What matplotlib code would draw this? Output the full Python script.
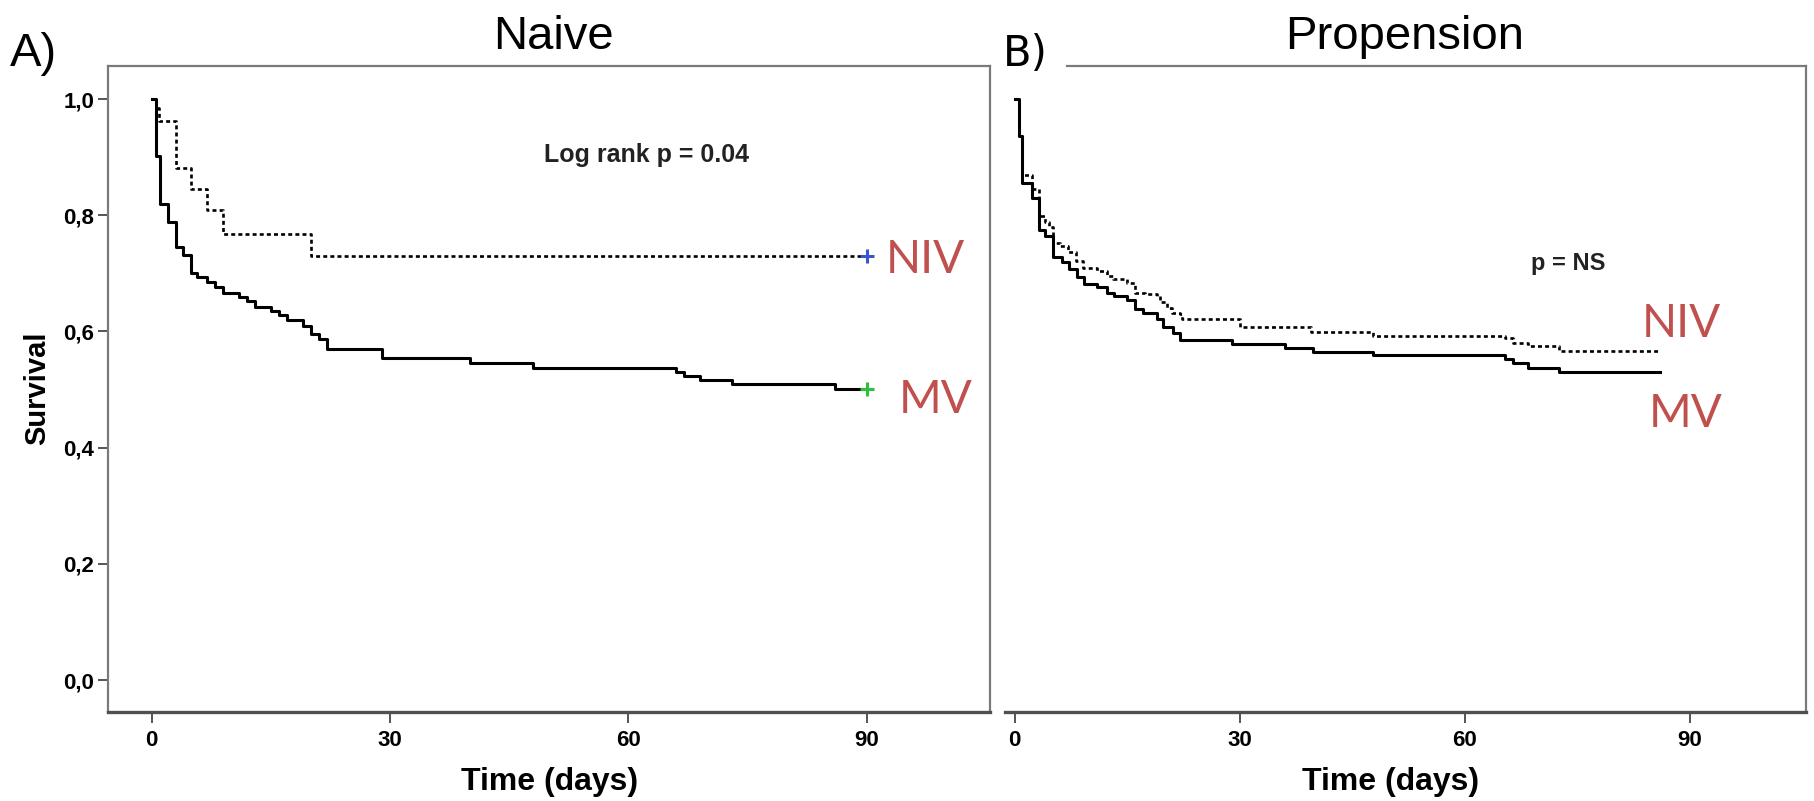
import matplotlib
matplotlib.use("Agg")
import matplotlib.pyplot as plt
from matplotlib import font_manager as fm

# ---------------- data ----------------
# Panel A (Naive)
t_niv_a = [0, 0.5, 0.9, 3.0, 5.0, 7.0, 9.0, 20.0, 90.0]
s_niv_a = [1.0, 0.985, 0.963, 0.882, 0.846, 0.809, 0.767, 0.730, 0.730]

t_mv_a = [0, 0.5, 1.0, 2.0, 3.0, 4.0, 5.0, 5.7, 7.0, 8.0, 9.0, 11.0, 12.0, 13.0,
          15.0, 16.0, 17.0, 19.0, 20.0, 21.0, 22.0, 29.0, 40.0, 48.0, 66.0, 67.0,
          69.0, 73.0, 86.0, 90.0]
s_mv_a = [1.0, 0.902, 0.819, 0.789, 0.745, 0.731, 0.701, 0.694, 0.686, 0.676, 0.667,
          0.659, 0.652, 0.643, 0.636, 0.628, 0.619, 0.610, 0.596, 0.587, 0.569, 0.555,
          0.546, 0.537, 0.531, 0.524, 0.517, 0.509, 0.501, 0.501]

# Panel B (Propension)
t_mv_b = [0, 0.6, 1.0, 2.3, 3.2, 4.0, 5.1, 6.3, 7.2, 8.3, 9.2, 10.9, 12.3, 13.2,
          14.9, 16.0, 17.1, 18.9, 19.8, 21.1, 22.0, 28.9, 36.0, 39.7, 47.7, 65.3,
          66.4, 68.4, 72.6, 86.0]
s_mv_b = [1.0, 0.937, 0.856, 0.830, 0.775, 0.765, 0.728, 0.719, 0.707, 0.693, 0.681,
          0.676, 0.667, 0.661, 0.655, 0.638, 0.632, 0.621, 0.607, 0.598, 0.586, 0.578,
          0.572, 0.564, 0.559, 0.552, 0.545, 0.537, 0.530, 0.530]

t_niv_b = [0, 0.6, 1.0, 2.3, 3.2, 4.0, 4.6, 5.1, 6.0, 7.1, 8.2, 9.1, 10.9, 12.3,
           13.1, 14.9, 16.0, 17.4, 18.9, 19.4, 20.3, 21.0, 22.0, 22.3, 30.0, 39.5,
           47.7, 65.3, 66.4, 68.4, 72.6, 86.0]
s_niv_b = [1.0, 0.937, 0.869, 0.846, 0.799, 0.789, 0.779, 0.753, 0.748, 0.736, 0.722,
           0.710, 0.704, 0.696, 0.690, 0.684, 0.667, 0.664, 0.661, 0.650, 0.641, 0.632,
           0.630, 0.621, 0.607, 0.599, 0.592, 0.589, 0.581, 0.575, 0.566, 0.566]

x_ticks = [0, 30, 60, 90]
y_ticks = [0.0, 0.2, 0.4, 0.6, 0.8, 1.0]
y_tick_labels = ["0,0", "0,2", "0,4", "0,6", "0,8", "1,0"]

# ---------------- fonts ----------------
names = {f.name for f in fm.fontManager.ttflist}
NARROW = "Liberation Sans Narrow" if "Liberation Sans Narrow" in names else "Liberation Sans"
ARIAL = "Liberation Sans"
LABEL = "Lato" if "Lato" in names else "Open Sans"

W, H = 1814, 801
fig = plt.figure(figsize=(W / 100, H / 100), dpi=100)


def fx(x):
    return x / W


def fy(y):
    return 1 - y / H


def add_ax(left, right, top, bottom):
    return fig.add_axes([fx(left), fy(bottom), fx(right - left), (bottom - top) / H])


axA = add_ax(108, 990, 66, 712)
axB = add_ax(1005, 1806, 66, 712)

RED = "#C0504D"
SPINE = "#7a7a7a"

for ax in (axA, axB):
    ax.set_ylim(-0.055, 1.057)
    ax.set_xticks(x_ticks)
    ax.set_xticklabels([str(v) for v in x_ticks], fontfamily=NARROW,
                       fontweight="bold", fontsize=16)
    ax.tick_params(axis="x", direction="out", length=8, width=1.4,
                   colors="#555555", labelcolor="black", pad=5)
    for s in ax.spines.values():
        s.set_color(SPINE)
        s.set_linewidth(1.6)
    ax.spines["bottom"].set_color("#505050")
    ax.spines["bottom"].set_linewidth(2.4)

axA.set_xlim(-5.5, 105.5)
axB.set_xlim(-1.3, 105.5)

DOT = (0, (1.5, 1.2))

# Panel A
axA.plot(t_mv_a, s_mv_a, drawstyle="steps-post", color="black", lw=2.2)
axA.plot(t_niv_a, s_niv_a, drawstyle="steps-post", color="black", lw=1.9,
         linestyle=DOT)
axA.plot([t_niv_a[-1]], [s_niv_a[-1]], marker="+", color="#3a56c9", ms=10, mew=2.2)
axA.plot([t_mv_a[-1]], [s_mv_a[-1]], marker="+", color="#2fbf3a", ms=10, mew=2.2)
axA.set_yticks(y_ticks)
axA.set_yticklabels(y_tick_labels, fontfamily=NARROW, fontweight="bold", fontsize=16)
axA.tick_params(axis="y", direction="out", length=7, width=1.4,
                colors="#555555", labelcolor="black", pad=3)

# Panel B
axB.plot(t_mv_b, s_mv_b, drawstyle="steps-post", color="black", lw=2.2)
axB.plot(t_niv_b, s_niv_b, drawstyle="steps-post", color="black", lw=1.9,
         linestyle=DOT)
axB.set_yticks([])
axB.spines["left"].set_visible(False)
xl = axB.get_xlim()
axB.spines["top"].set_bounds(xl[0] + 0.078 * (xl[1] - xl[0]), xl[1])

# ---------------- texts ----------------
fig.text(fx(553), fy(49), "Naive", ha="center", va="baseline",
         fontfamily=ARIAL, fontsize=34)
fig.text(fx(1405), fy(49), "Propension", ha="center", va="baseline",
         fontfamily=ARIAL, fontsize=34)
fig.text(fx(10), fy(66), "A)", ha="left", va="baseline", fontfamily=ARIAL, fontsize=34)
fig.text(fx(1003), fy(66), "B)", ha="left", va="baseline", fontfamily="DejaVu Sans",
         fontsize=30)

fig.text(fx(37), fy(388), "Survival", rotation=90, ha="center", va="center",
         fontfamily=NARROW, fontweight="bold", fontsize=21)
fig.text(fx(550), fy(790), "Time (days)", ha="center", va="baseline",
         fontfamily=NARROW, fontweight="bold", fontsize=23)
fig.text(fx(1391), fy(790), "Time (days)", ha="center", va="baseline",
         fontfamily=NARROW, fontweight="bold", fontsize=23)

fig.text(fx(646), fy(162), "Log rank p = 0.04", ha="center", va="baseline",
         fontfamily=ARIAL, fontweight="bold", fontsize=18, color="#222222")
fig.text(fx(1568), fy(270), "p = NS", ha="center", va="baseline",
         fontfamily=ARIAL, fontweight="bold", fontsize=17, color="#222222")

fig.text(fx(925), fy(273), "NIV", ha="center", va="baseline", fontfamily=LABEL,
         fontsize=33, color=RED)
fig.text(fx(936), fy(413), "MV", ha="center", va="baseline", fontfamily=LABEL,
         fontsize=33, color=RED)
fig.text(fx(1681), fy(337), "NIV", ha="center", va="baseline", fontfamily=LABEL,
         fontsize=33, color=RED)
fig.text(fx(1686), fy(427), "MV", ha="center", va="baseline", fontfamily=LABEL,
         fontsize=33, color=RED)

fig.savefig("out.png", dpi=100, facecolor="white")
